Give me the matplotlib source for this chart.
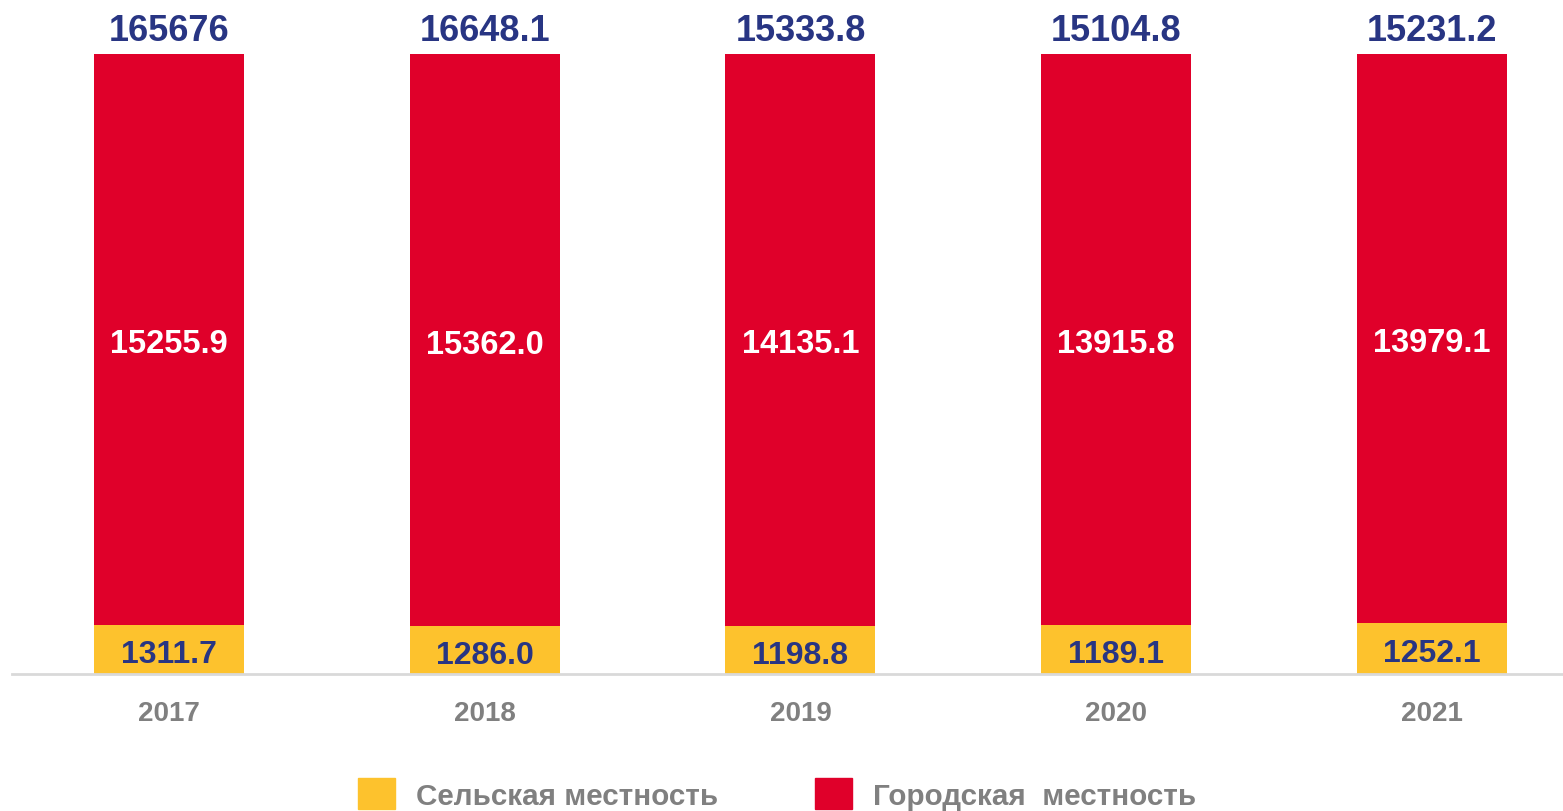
import numpy as np
import matplotlib.pyplot as plt
from matplotlib.patches import Patch

years = ['2017', '2018', '2019', '2020', '2021']
urban = [15255.9, 15362.0, 14135.1, 13915.8, 13979.1]
rural = [1311.7, 1286.0, 1198.8, 1189.1, 1252.1]
total_labels = ['165676', '16648.1', '15333.8', '15104.8', '15231.2']

RED = '#E0002A'
YELLOW = '#FDC22D'
NAVY = '#283583'
GREY = '#808080'

plt.rcParams['font.family'] = ['Liberation Sans', 'DejaVu Sans']
plt.rcParams['font.weight'] = 'bold'

W, H = 1563, 812
fig = plt.figure(figsize=(W / 100, H / 100), dpi=100)
ax = fig.add_axes([12 / W, 1 - 675 / H, 1 - 12 / W, 675 / H])

x = np.arange(len(years))
urban = np.array(urban)
rural = np.array(rural)
tot = urban + rural
rural_pct = rural / tot * 100
urban_pct = urban / tot * 100

ax.bar(x, rural_pct, width=0.475, color=YELLOW)
ax.bar(x, urban_pct, width=0.475, bottom=rural_pct, color=RED)

for i in range(len(years)):
    ax.annotate(f'{rural[i]:.1f}', (x[i], rural_pct[i] / 2), xytext=(0, -3.5),
                textcoords='offset points', ha='center', va='center',
                fontsize=23, color=NAVY, fontweight='bold')
    ax.annotate(f'{urban[i]:.1f}', (x[i], rural_pct[i] + urban_pct[i] / 2),
                xytext=(0, -3), textcoords='offset points', ha='center',
                va='center', fontsize=23.5, color='white', fontweight='bold')
    ax.annotate(total_labels[i], (x[i], 100), xytext=(0, 4),
                textcoords='offset points', ha='center', va='bottom',
                fontsize=26, color=NAVY, fontweight='bold')

ax.set_xlim(-0.497, 4.415)
ax.set_ylim(0, 100 * 675 / 620)
ax.set_xticks(x)
ax.set_xticklabels(years, fontsize=20, color=GREY, fontweight='bold')
ax.tick_params(axis='x', length=0, pad=19)
ax.set_yticks([])
for s in ['top', 'right', 'left']:
    ax.spines[s].set_visible(False)
ax.spines['bottom'].set_color('#D9D9D9')
ax.spines['bottom'].set_linewidth(2)

handles = [Patch(color=YELLOW, label='Сельская местность'),
           Patch(color=RED, label='Городская  местность')]
fig.legend(handles=handles, loc='upper left', bbox_to_anchor=(358 / W, 1 - 779 / H),
           ncol=2, frameon=False, labelcolor=GREY,
           handlelength=1.25, handleheight=1.25, handletextpad=0.7,
           columnspacing=3.3, borderpad=0, borderaxespad=0,
           prop={'weight': 'bold', 'size': 21.3})

fig.savefig('out.png', dpi=100)
